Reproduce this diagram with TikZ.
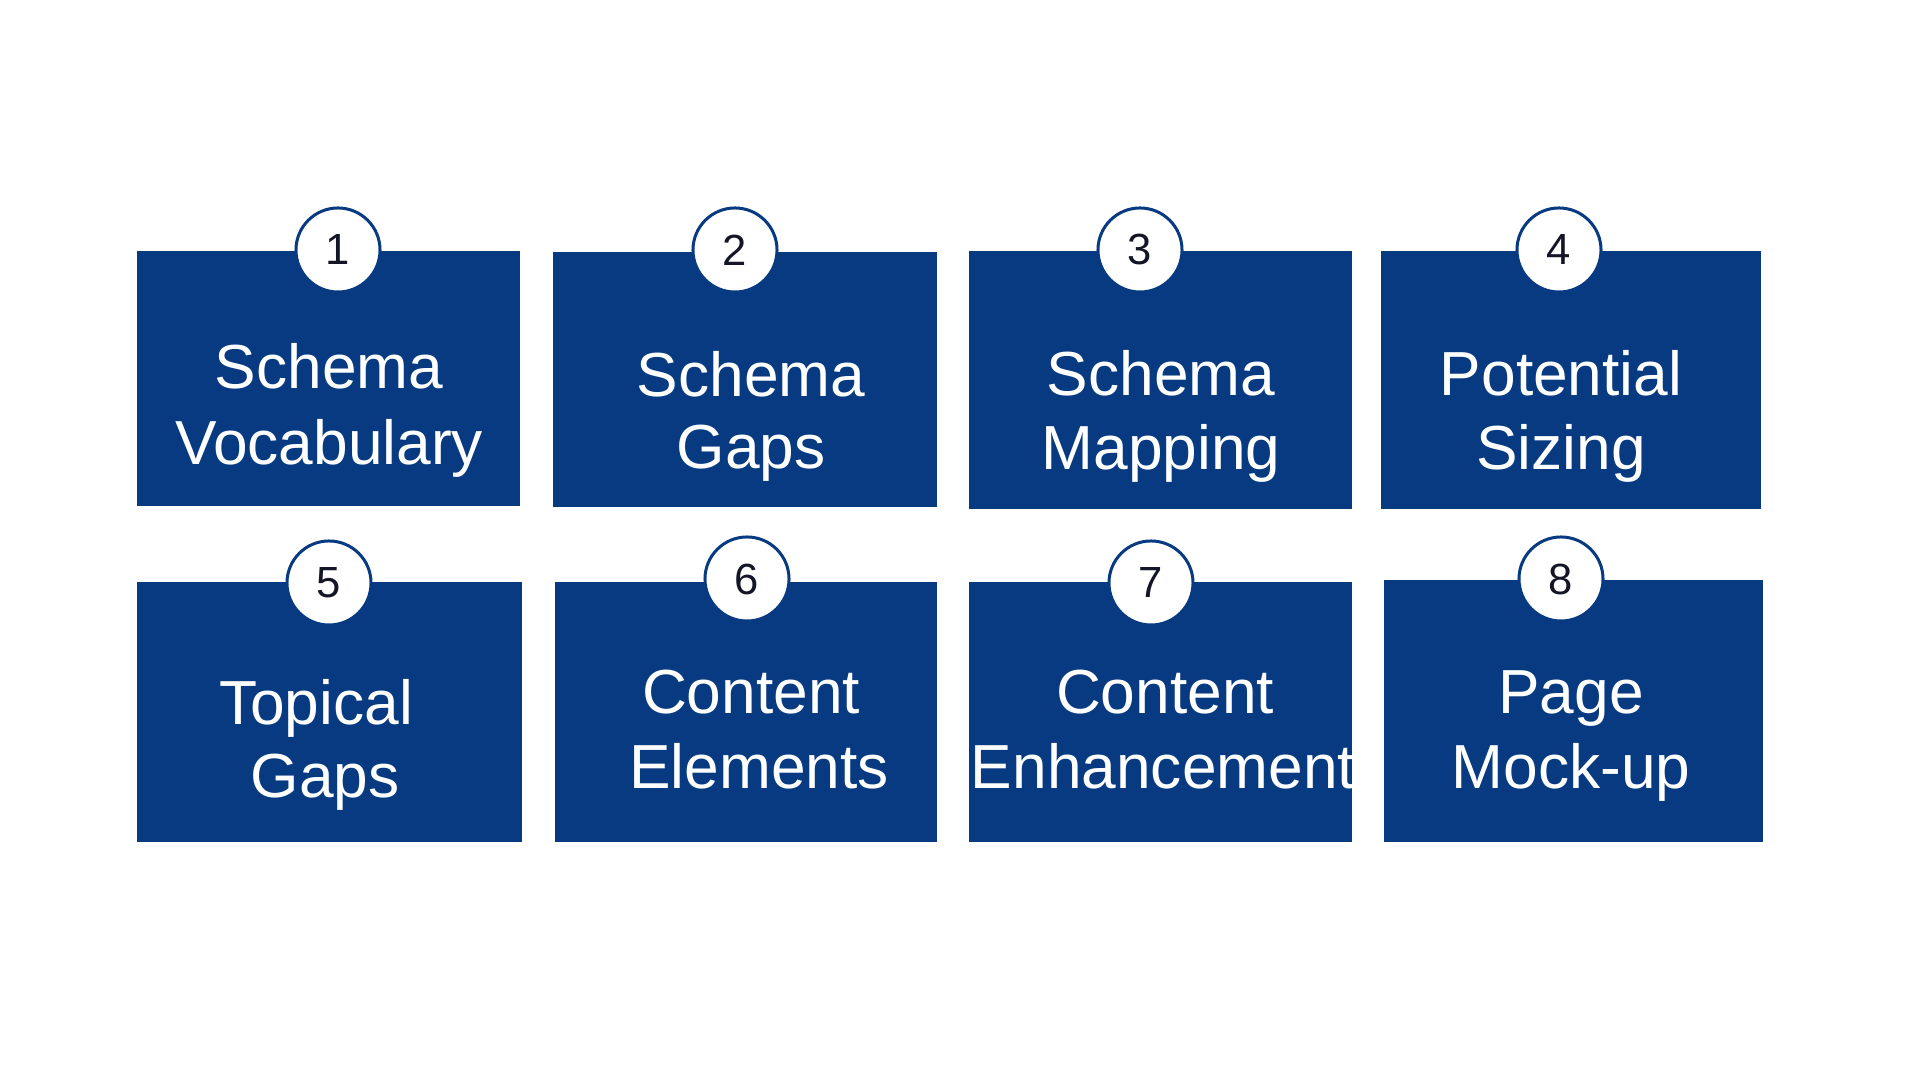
\documentclass[tikz,border=0pt]{standalone}
\usepackage{fontspec}
\setmainfont{Liberation Sans}
\definecolor{navy}{RGB}{7,58,129}
\definecolor{numink}{RGB}{20,22,40}
\begin{document}
\begin{tikzpicture}[x=0.01cm,y=-0.01cm,
  panel/.style={fill=navy,draw=none,inner sep=0pt,outer sep=0pt,rectangle},
  badge/.style={circle,fill=white,draw=navy,line width=0.03cm,minimum size=0.84cm,inner sep=0pt,
    font=\fontsize{12.4pt}{14pt}\selectfont,text=numink},
  lbl/.style={anchor=base,text=white,inner sep=0pt,font=\fontsize{17.7pt}{21pt}\selectfont}]
\fill[white] (0,0) rectangle (1920,1080);
\useasboundingbox (0,0) rectangle (1920,1080);
% panels
\node[panel,minimum width=3.83cm,minimum height=2.55cm] (b1) at (328.5,378.5) {};
\node[panel,minimum width=3.84cm,minimum height=2.55cm] (b2) at (745,379.5) {};
\node[panel,minimum width=3.83cm,minimum height=2.58cm] (b3) at (1160.5,380) {};
\node[panel,minimum width=3.80cm,minimum height=2.58cm] (b4) at (1571,380) {};
\node[panel,minimum width=3.85cm,minimum height=2.60cm] (b5) at (329.5,712) {};
\node[panel,minimum width=3.82cm,minimum height=2.60cm] (b6) at (746,712) {};
\node[panel,minimum width=3.83cm,minimum height=2.60cm] (b7) at (1160.5,712) {};
\node[panel,minimum width=3.79cm,minimum height=2.62cm] (b8) at (1573.5,711) {};
% badges
\node[badge] (c1) at (338,250) {1};
\node[badge] (c2) at (735,250) {2};
\node[badge] (c3) at (1140,250) {3};
\node[badge] (c4) at (1559,250) {4};
\node[badge] (c5) at (329,583) {5};
\node[badge] (c6) at (747,579) {6};
\node[badge] (c7) at (1151,583) {7};
\node[badge] (c8) at (1561,579) {8};
% labels
\node[lbl] (t1a) at (329,389) {Schema};
\node[lbl] (t1b) at (329,465) {Vocabulary};
\node[lbl] (t2a) at (751,397) {Schema};
\node[lbl] (t2b) at (751,469) {Gaps};
\node[lbl] (t3a) at (1161,396) {Schema};
\node[lbl] (t3b) at (1161,470) {Mapping};
\node[lbl] (t4a) at (1561,396) {Potential};
\node[lbl] (t4b) at (1561,470) {Sizing};
\node[lbl] (t5a) at (316,725) {Topical};
\node[lbl] (t5b) at (325,798) {Gaps};
\node[lbl] (t6a) at (751,714) {Content};
\node[lbl] (t6b) at (759,789) {Elements};
\node[lbl] (t7a) at (1165,714) {Content};
\node[lbl] (t7b) at (1163,789) {Enhancement};
\node[lbl] (t8a) at (1571,714) {Page};
\node[lbl] (t8b) at (1571,789) {Mock-up};
\end{tikzpicture}
\end{document}
